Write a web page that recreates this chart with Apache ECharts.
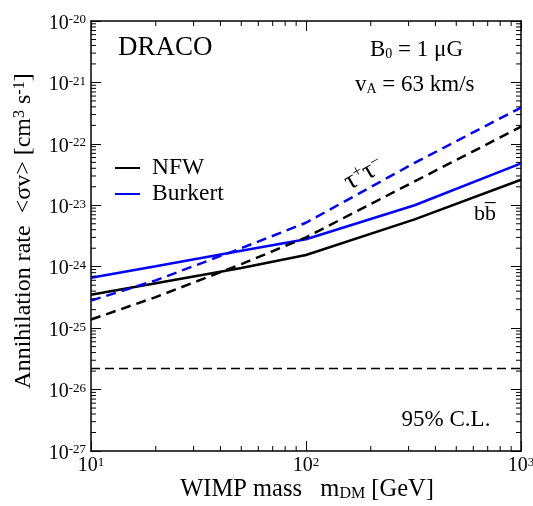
<!DOCTYPE html>
<html><head><meta charset="utf-8">
<script src="https://cdn.jsdelivr.net/npm/echarts@6/dist/echarts.min.js"></script>
<style>html,body{margin:0;padding:0;background:#fff}#c{width:533px;height:506px}</style>
</head><body><div id="c"></div>
<script>
// ---- data ----
const mass = [10, 20, 50, 100, 320, 1000];
const nfwBB = [3.5e-25, 5.4e-25, 9.5e-25, 1.55e-24, 5.9e-24, 2.6e-23];
const burkertBB = [6.6e-25, 1.02e-24, 1.82e-24, 2.8e-24, 1.0e-23, 4.8e-23];
const nfwTau = [1.38e-25, 3.2e-25, 1.1e-24, 3.0e-24, 2.45e-23, 1.9e-22];
const burkertTau = [2.8e-25, 6.0e-25, 2.0e-24, 5.2e-24, 4.9e-23, 3.9e-22];
const limitMass = [10, 1000];
const limitValue = [2.2e-26, 2.2e-26];
const xRange = [10, 1000];
const yRange = [1e-27, 1e-20];
const xDecades = [1, 2, 3];
const yDecades = [-27, -26, -25, -24, -23, -22, -21, -20];
const minorX = [];
for (let e = 1; e < 3; e++) for (let m = 2; m < 10; m++) minorX.push(m * Math.pow(10, e));
const minorY = [];
for (let e = -27; e < -20; e++) for (let m = 2; m < 10; m++) minorY.push(m * Math.pow(10, e));

const FONT = 'Liberation Serif';
const pairs = (xs, ys) => xs.map((x, i) => [x, ys[i]]);
const majorX = xDecades.map(e => Math.pow(10, e));
const majorY = yDecades.map(e => Math.pow(10, e));
const expOf = v => Math.round(Math.log10(v));
const labelRich = {
  b: {fontFamily: FONT, fontSize: 20, lineHeight: 20, color: '#000', padding: [4.5, 0, 0, 0], verticalAlign: 'bottom'},
  s: {fontFamily: FONT, fontSize: 13, lineHeight: 13, color: '#000', verticalAlign: 'top'}
};
const axisCommon = {
  type: 'log', logBase: 10,
  axisLine: {show: true, onZero: false, lineStyle: {color: '#000', width: 1.5}},
  splitLine: {show: false}, minorTick: {show: false}
};
const tickStyle = vals => ({show: true, inside: true, length: 10, customValues: vals, lineStyle: {color: '#000', width: 1}});

const chart = echarts.init(document.getElementById('c'), null, {renderer: 'canvas'});

function minorTickSeries(vals, horizontal) {
  return {
    type: 'custom', silent: true, clip: false, z: 5,
    data: horizontal ? vals.map(v => [v, yRange[0]]) : vals.map(v => [xRange[0], v]),
    renderItem: function (params, api) {
      const st = {stroke: '#000', lineWidth: 1};
      if (horizontal) {
        const v = api.value(0);
        const b = api.coord([v, yRange[0]]), t = api.coord([v, yRange[1]]);
        return {type: 'group', children: [
          {type: 'line', shape: {x1: b[0], y1: b[1], x2: b[0], y2: b[1] - 5}, style: st},
          {type: 'line', shape: {x1: t[0], y1: t[1], x2: t[0], y2: t[1] + 5}, style: st}
        ]};
      } else {
        const v = api.value(1);
        const l = api.coord([xRange[0], v]), r = api.coord([xRange[1], v]);
        return {type: 'group', children: [
          {type: 'line', shape: {x1: l[0], y1: l[1], x2: l[0] + 5, y2: l[1]}, style: st},
          {type: 'line', shape: {x1: r[0], y1: r[1], x2: r[0] - 5, y2: r[1]}, style: st}
        ]};
      }
    }
  };
}

const option = {
  backgroundColor: '#fff',
  animation: false,
  grid: {left: 91, right: 12, top: 21, bottom: 55, containLabel: false, outerBoundsMode: 'none'},
  xAxis: [
    Object.assign({}, axisCommon, {position: 'bottom', min: xRange[0], max: xRange[1], axisTick: tickStyle(majorX),
      axisLabel: {show: true, margin: 5, customValues: majorX, hideOverlap: false,
        formatter: v => '{b|10}{s|' + expOf(v) + '}', rich: labelRich, verticalAlign: 'top'}}),
    Object.assign({}, axisCommon, {position: 'top', min: xRange[0], max: xRange[1], axisTick: tickStyle(majorX), axisLabel: {show: false}})
  ],
  yAxis: [
    Object.assign({}, axisCommon, {position: 'left', min: yRange[0], max: yRange[1], axisTick: tickStyle(majorY),
      axisLabel: {show: true, margin: 5, customValues: majorY, hideOverlap: false, padding: [5, 0, 0, 0],
        formatter: v => '{b|10}{s|' + expOf(v) + '}', rich: labelRich, align: 'right', verticalAlign: 'middle'}}),
    Object.assign({}, axisCommon, {position: 'right', min: yRange[0], max: yRange[1], axisTick: tickStyle(majorY), axisLabel: {show: false}})
  ],
  legend: {
    data: ['NFW', 'Burkert'], orient: 'vertical', left: 110, top: 151,
    itemWidth: 25, itemHeight: 10, itemGap: 2, selectedMode: false, icon: 'path://M0,4.5L25,4.5L25,6.5L0,6.5Z',
    textStyle: {fontFamily: FONT, fontSize: 23.5, color: '#000', lineHeight: 24, padding: [0, 0, 0, 7]}
  },
  series: [
    {name: 'NFW', type: 'line', symbol: 'none', data: pairs(mass, nfwBB),
      lineStyle: {color: '#000', width: 2.5}, itemStyle: {color: '#000'}},
    {name: 'Burkert', type: 'line', symbol: 'none', data: pairs(mass, burkertBB),
      lineStyle: {color: '#0000ff', width: 2.5}, itemStyle: {color: '#0000ff'}},
    {name: 'NFW tau', type: 'line', symbol: 'none', data: pairs(mass, nfwTau),
      lineStyle: {color: '#000', width: 2.5, type: [10, 6]}},
    {name: 'Burkert tau', type: 'line', symbol: 'none', data: pairs(mass, burkertTau),
      lineStyle: {color: '#0000ff', width: 2.5, type: [10, 6]}},
    {name: 'limit', type: 'line', symbol: 'none', data: pairs(limitMass, limitValue),
      lineStyle: {color: '#000', width: 1.5, type: [9, 5]}},
    minorTickSeries(minorX, true),
    minorTickSeries(minorY, false)
  ],
  graphic: [
    {type: 'text', left: 118, top: 34, style: {text: 'DRACO', fontFamily: FONT, fontSize: 27, fill: '#000'}},
    {type: 'text', x: 370, y: 38, style: {
      text: '{t|B}{sub|0}{t| = 1 μG}',
      rich: {t: {fontFamily: FONT, fontSize: 23, lineHeight: 23, padding: [0, 0, 8, 0], verticalAlign: 'top', fill: '#000'},
             sub: {fontFamily: FONT, fontSize: 14, lineHeight: 14, verticalAlign: 'bottom', fill: '#000'}}}},
    {type: 'text', x: 355, y: 73, style: {
      text: '{t|v}{sub|A}{t| = 63 km/s}',
      rich: {t: {fontFamily: FONT, fontSize: 23, lineHeight: 23, padding: [0, 0, 8, 0], verticalAlign: 'top', fill: '#000'},
             sub: {fontFamily: FONT, fontSize: 14, lineHeight: 14, verticalAlign: 'bottom', fill: '#000'}}}},
    {type: 'text', x: 364, y: 174, rotation: 30 * Math.PI / 180, style: {
      text: '{t|τ}{sup|+}{t|τ}{sup|−}', align: 'center', verticalAlign: 'middle',
      rich: {t: {fontFamily: FONT, fontSize: 27, lineHeight: 27, padding: [6, 0, 0, 0], verticalAlign: 'bottom', fill: '#000'},
             sup: {fontFamily: FONT, fontSize: 17, lineHeight: 17, verticalAlign: 'top', fill: '#000'}}}},
    {type: 'text', x: 485, y: 214, style: {text: 'bb\u0305', align: 'center', verticalAlign: 'middle',
      fontFamily: FONT, fontSize: 22, fill: '#000'}},
    {type: 'text', x: 446, y: 420, style: {text: '95% C.L.', align: 'center', verticalAlign: 'middle',
      fontFamily: FONT, fontSize: 23, fill: '#000'}},
    {type: 'text', x: 307, y: 477, style: {
      text: '{t|WIMP mass   m}{sub|DM}{t| [GeV]}', align: 'center', verticalAlign: 'top',
      rich: {t: {fontFamily: FONT, fontSize: 24.5, lineHeight: 24.5, padding: [0, 0, 8, 0], verticalAlign: 'top', fill: '#000'},
             sub: {fontFamily: FONT, fontSize: 16, lineHeight: 16, verticalAlign: 'bottom', fill: '#000'}}}},
    {type: 'text', x: 24, y: 231, rotation: Math.PI / 2, style: {
      text: '{t|Annihilation rate  <σv> [cm}{sup|3}{t| s}{sup|-1}{t|]}', align: 'center', verticalAlign: 'middle',
      rich: {t: {fontFamily: FONT, fontSize: 24, lineHeight: 24, padding: [7, 0, 0, 0], verticalAlign: 'bottom', fill: '#000'},
             sup: {fontFamily: FONT, fontSize: 16, lineHeight: 16, verticalAlign: 'top', fill: '#000'}}}}
  ]
};
chart.setOption(option);
</script></body></html>
